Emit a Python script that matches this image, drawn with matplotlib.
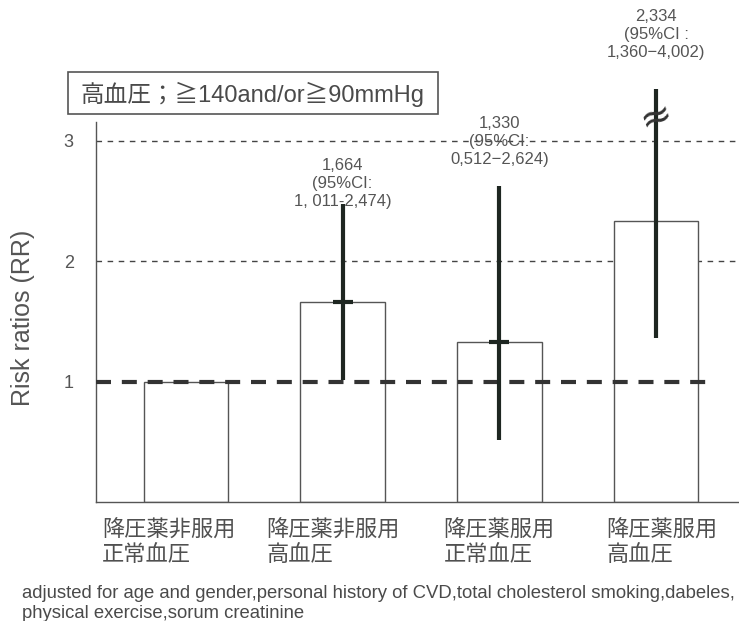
import matplotlib
matplotlib.use("Agg")
import matplotlib.pyplot as plt
from matplotlib.patches import Rectangle

# risk ratios by treatment / blood-pressure group
groups = ["降圧薬非服用\n正常血圧", "降圧薬非服用\n高血圧", "降圧薬服用\n正常血圧", "降圧薬服用\n高血圧"]
rr = [1.0, 1.664, 1.330, 2.334]
ci_low = [None, 1.011, 0.512, 1.360]
ci_high = [None, 2.474, 2.624, 4.002]
rr_text = ["", "1,664\n(95%CI:\n1, 011-2,474)", "1,330\n(95%CI:\n0,512−2,624)",
           "2,334\n(95%CI :\n1,360−4,002)"]
yticks = [1, 2, 3]
title = "高血圧；≧140and/or≧90mmHg"
note = ("adjusted for age and gender,personal history of CVD,total cholesterol smoking,dabeles,\n"
        "physical exercise,sorum creatinine")

# axis is broken above this value
y_break = 3.43
text_y = [None, 2.64, 2.99, 3.88]
label_shift = [-0.11, -0.06, 0, 0.04]

latin = ["Liberation Sans", "Noto Sans CJK JP", "DejaVu Sans"]
cjk = ["Noto Sans CJK JP", "DejaVu Sans"]
grey = "#4a4a4a"

fig = plt.figure(figsize=(7.39, 6.21), dpi=100)
ax = fig.add_axes([96 / 739, 119 / 621, 643 / 739, 380 / 621])

x = list(range(len(groups)))
ax.bar(x, rr, width=0.54, color="white", edgecolor="#555555", linewidth=1.0, zorder=2)

# reference and grid lines
ax.axhline(1, xmin=0, xmax=0.963, color="#333333", lw=3, linestyle=(0, (3.6, 2.6)), zorder=4)
for v in (2, 3):
    ax.axhline(v, color="#444444", lw=1.0, linestyle=(0, (4, 4)), zorder=1)

# confidence intervals
for i in x:
    if ci_low[i] is None:
        continue
    top = min(ci_high[i], y_break)
    ax.plot([i, i], [ci_low[i], top], color="#1e2621", lw=3, solid_capstyle="butt",
            zorder=5, clip_on=False)
    if ci_high[i] > y_break:
        ax.text(i, 3.2, "≈", ha="center", va="center", fontsize=28, rotation=20,
                color="#333333", zorder=6, clip_on=False, family="DejaVu Sans")
    ax.text(i, text_y[i], rr_text[i], ha="center", va="center", fontsize=12,
            color="#555555", family=latin, linespacing=1.25, zorder=6)

ax.plot([1, 2], [rr[1], rr[2]], linestyle="none", marker="_", markersize=14,
        markeredgewidth=3, color="#1e2621", zorder=5)

ax.set_xlim(-0.574, 3.53)
ax.set_ylim(0, 3.154)
ax.set_yticks(yticks)
ax.set_yticklabels([str(t) for t in yticks], fontsize=13, color="#555555", family=latin)
ax.set_xticks([])
ax.tick_params(axis="y", length=0, pad=16)
for s in ("top", "right"):
    ax.spines[s].set_visible(False)
for s in ("left", "bottom"):
    ax.spines[s].set_color("#555555")
    ax.spines[s].set_linewidth(1.0)

# category labels under the bars
for i, g in zip(x, groups):
    ax.text(i + label_shift[i], -0.14, g, ha="center", va="top", multialignment="left",
            fontsize=16, color="#505050", family=cjk, linespacing=1.05, clip_on=False)

fig.text(23 / 739, 1 - 318 / 621, "Risk ratios (RR)", rotation=90, ha="center", va="center",
         fontsize=18, color="#555555", family=latin)

# boxed title
fig.patches.append(Rectangle((68 / 739, 1 - 114 / 621), 370 / 739, 42 / 621,
                             transform=fig.transFigure, facecolor="white",
                             edgecolor="#555555", lw=1.2))
fig.text(253 / 739, 1 - 94 / 621, title, ha="center", va="center", fontsize=17,
         color=grey, family=latin)

fig.text(22 / 739, 1 - 585 / 621, note, ha="left", va="top", fontsize=13.3, color=grey,
         family=latin, linespacing=1.22)

fig.savefig("out.png", dpi=100, facecolor="white")
